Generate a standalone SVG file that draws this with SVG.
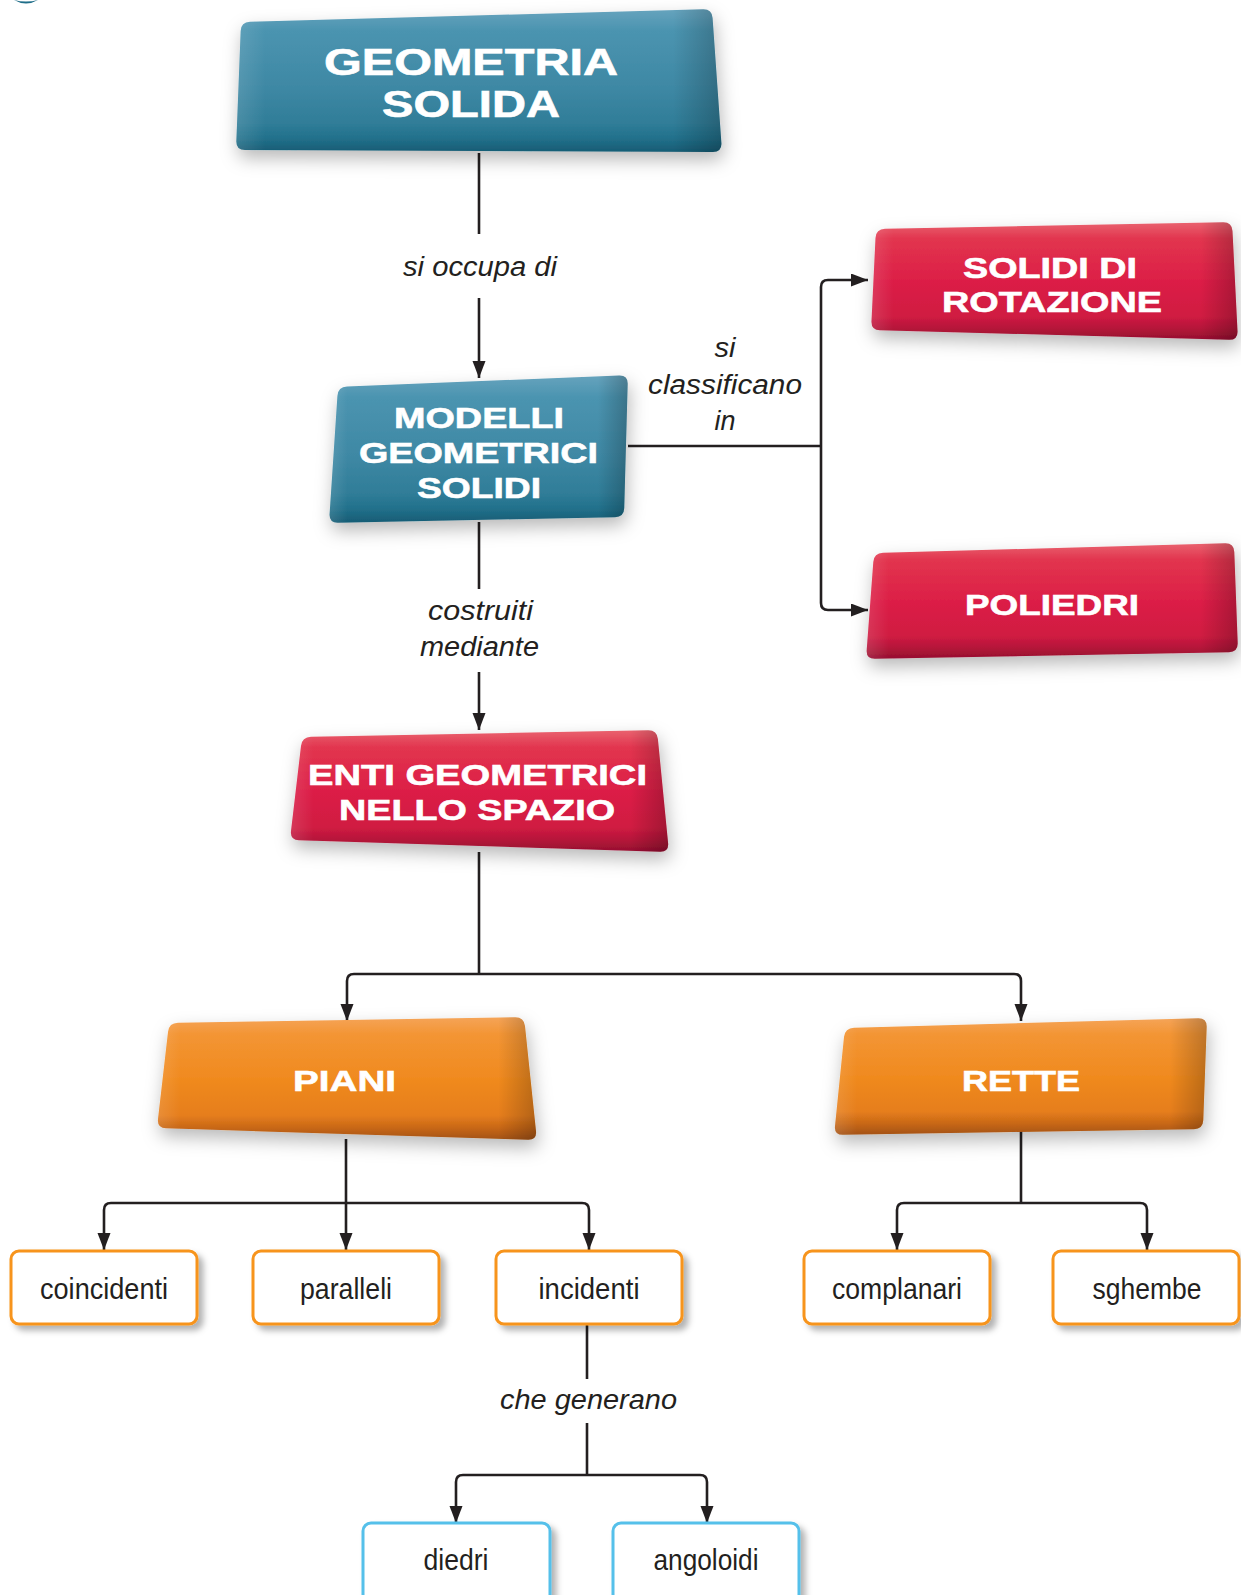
<svg xmlns="http://www.w3.org/2000/svg" width="1241" height="1595" viewBox="0 0 1241 1595">
<style>
.big{font-family:"Liberation Sans",Arial,sans-serif;font-weight:bold;fill:#ffffff;text-anchor:middle;stroke:#ffffff;stroke-width:0.6}
.lbl{font-family:"Liberation Sans",Arial,sans-serif;font-style:italic;font-size:27px;fill:#231f20;text-anchor:middle}
.sm{font-family:"Liberation Sans",Arial,sans-serif;font-size:30px;fill:#231f20;text-anchor:middle}
.con{fill:none;stroke:#231f20;stroke-width:2.6}
.arr{marker-end:url(#ah)}
.obox{fill:#ffffff;stroke:#f7941d;stroke-width:3}
.bbox{fill:#ffffff;stroke:#55c0ea;stroke-width:3}
</style>
<defs>
<marker id="ah" markerUnits="userSpaceOnUse" markerWidth="18" markerHeight="14" refX="17" refY="6.5" orient="auto">
<path d="M0,0 L17,6.5 L0,13 Z" fill="#231f20"/>
</marker>
<linearGradient id="gTeal" x1="0" y1="0" x2="0" y2="1">
<stop offset="0" stop-color="#66a3bd"/><stop offset="0.15" stop-color="#4b94b0"/><stop offset="0.55" stop-color="#3e88a4"/><stop offset="0.8" stop-color="#307d98"/><stop offset="0.9" stop-color="#22718c"/><stop offset="1" stop-color="#175c74"/>
</linearGradient>
<linearGradient id="gRed" x1="0" y1="0" x2="0" y2="1">
<stop offset="0" stop-color="#e9636f"/><stop offset="0.14" stop-color="#e2354f"/><stop offset="0.5" stop-color="#dc1f46"/><stop offset="0.8" stop-color="#d01b42"/><stop offset="0.9" stop-color="#b6163a"/><stop offset="1" stop-color="#950f2f"/>
</linearGradient>
<linearGradient id="gOrange" x1="0" y1="0" x2="0" y2="1">
<stop offset="0" stop-color="#f5a458"/><stop offset="0.14" stop-color="#f39534"/><stop offset="0.5" stop-color="#f08a1f"/><stop offset="0.8" stop-color="#e67e1c"/><stop offset="0.9" stop-color="#c96817"/><stop offset="1" stop-color="#a35212"/>
</linearGradient>
<linearGradient id="gSide" x1="0" y1="0" x2="1" y2="0">
<stop offset="0" stop-color="#ffffff" stop-opacity="0.12"/><stop offset="0.06" stop-color="#ffffff" stop-opacity="0"/><stop offset="0.9" stop-color="#000000" stop-opacity="0"/><stop offset="1" stop-color="#000000" stop-opacity="0.22"/>
</linearGradient>
<filter id="sh" x="-20%" y="-30%" width="140%" height="170%">
<feDropShadow dx="2" dy="8" stdDeviation="9" flood-color="#000000" flood-opacity="0.28"/>
</filter>
<filter id="ssh" x="-10%" y="-10%" width="130%" height="140%">
<feDropShadow dx="5" dy="5" stdDeviation="3" flood-color="#000000" flood-opacity="0.3"/>
</filter>
</defs>
<rect width="1241" height="1595" fill="#ffffff"/>
<path d="M14,0 Q26,7 38,0 Q26,3 14,0 Z" fill="#1f6e89"/>

<g id="connectors">
<path class="con" d="M479,153 V234"/>
<path class="con arr" d="M479,298 V378"/>
<path class="con" d="M628,446 H821"/>
<path class="con arr" d="M821,446 V287 Q821,280 828,280 H868"/>
<path class="con arr" d="M821,446 V603 Q821,610 828,610 H868"/>
<path class="con" d="M479,522 V589"/>
<path class="con arr" d="M479,672 V730"/>
<path class="con" d="M479,852 V974"/>
<path class="con arr" d="M479,974 H354 Q347,974 347,981 V1021"/>
<path class="con arr" d="M479,974 H1014 Q1021,974 1021,981 V1021"/>
<path class="con arr" d="M346,1139 V1250"/>
<path class="con arr" d="M346,1203 H111 Q104,1203 104,1210 V1250"/>
<path class="con arr" d="M346,1203 H582 Q589,1203 589,1210 V1250"/>
<path class="con" d="M1021,1130 V1203"/>
<path class="con arr" d="M1021,1203 H904 Q897,1203 897,1210 V1250"/>
<path class="con arr" d="M1021,1203 H1140 Q1147,1203 1147,1210 V1250"/>
<path class="con" d="M587,1325 V1379"/>
<path class="con" d="M587,1423 V1475"/>
<path class="con arr" d="M587,1475 H463 Q456,1475 456,1482 V1523"/>
<path class="con arr" d="M587,1475 H700 Q707,1475 707,1482 V1523"/>
<text class="lbl" x="480" y="276" textLength="154" lengthAdjust="spacingAndGlyphs">si occupa di</text>
<text class="lbl" x="725" y="357" textLength="21" lengthAdjust="spacingAndGlyphs">si</text>
<text class="lbl" x="725" y="394" textLength="154" lengthAdjust="spacingAndGlyphs">classificano</text>
<text class="lbl" x="725" y="430" textLength="21" lengthAdjust="spacingAndGlyphs">in</text>
<text class="lbl" x="480.5" y="620" textLength="105" lengthAdjust="spacingAndGlyphs">costruiti</text>
<text class="lbl" x="479.5" y="656" textLength="119" lengthAdjust="spacingAndGlyphs">mediante</text>
<text class="lbl" x="588.5" y="1409" textLength="177" lengthAdjust="spacingAndGlyphs">che generano</text>
</g>

<g id="geometria-solida">
<path filter="url(#sh)" fill="url(#gTeal)" d="M250,21.75 L703,9.25 Q712,9 712.6,18 L721.4,143 Q722,152 713,152 L245,150 Q236,150 236.35,141 L240.65,31 Q241,22 250,21.75 Z"/>
<path fill="url(#gSide)" d="M250,21.75 L703,9.25 Q712,9 712.6,18 L721.4,143 Q722,152 713,152 L245,150 Q236,150 236.35,141 L240.65,31 Q241,22 250,21.75 Z"/>
<text class="big" x="471" y="75" font-size="36" textLength="294" lengthAdjust="spacingAndGlyphs">GEOMETRIA</text>
<text class="big" x="471" y="117" font-size="36" textLength="178" lengthAdjust="spacingAndGlyphs">SOLIDA</text>
</g>

<g id="modelli-geometrici-solidi">
<path filter="url(#sh)" fill="url(#gTeal)" d="M347,386.6 L619,375.4 Q628,375 627.7,384 L624.25,508 Q624,517 615,517.2 L338,522.8 Q329,523 329.6,514 L337.4,396 Q338,387 347,386.6 Z"/>
<path fill="url(#gSide)" d="M347,386.6 L619,375.4 Q628,375 627.7,384 L624.25,508 Q624,517 615,517.2 L338,522.8 Q329,523 329.6,514 L337.4,396 Q338,387 347,386.6 Z"/>
<text class="big" x="479" y="428" font-size="30" textLength="170" lengthAdjust="spacingAndGlyphs">MODELLI</text>
<text class="big" x="478.5" y="463" font-size="30" textLength="239" lengthAdjust="spacingAndGlyphs">GEOMETRICI</text>
<text class="big" x="479" y="498" font-size="30" textLength="124" lengthAdjust="spacingAndGlyphs">SOLIDI</text>
</g>

<g id="solidi-di-rotazione">
<path filter="url(#sh)" fill="url(#gRed)" d="M885,228.8 L1223,222.2 Q1232,222 1232.5,231 L1237.5,331 Q1238,340 1229,339.8 L880,330.2 Q871,330 871.5,321 L875.5,238 Q876,229 885,228.8 Z"/>
<path fill="url(#gSide)" d="M885,228.8 L1223,222.2 Q1232,222 1232.5,231 L1237.5,331 Q1238,340 1229,339.8 L880,330.2 Q871,330 871.5,321 L875.5,238 Q876,229 885,228.8 Z"/>
<text class="big" x="1050" y="278" font-size="30" textLength="174" lengthAdjust="spacingAndGlyphs">SOLIDI DI</text>
<text class="big" x="1052" y="312" font-size="30" textLength="220" lengthAdjust="spacingAndGlyphs">ROTAZIONE</text>
</g>

<g id="poliedri">
<path filter="url(#sh)" fill="url(#gRed)" d="M883,552.75 L1225,543.25 Q1234,543 1234.3,552 L1237.7,643 Q1238,652 1229,652.17 L875,658.83 Q866,659 866.7,650 L873.3,562 Q874,553 883,552.75 Z"/>
<path fill="url(#gSide)" d="M883,552.75 L1225,543.25 Q1234,543 1234.3,552 L1237.7,643 Q1238,652 1229,652.17 L875,658.83 Q866,659 866.7,650 L873.3,562 Q874,553 883,552.75 Z"/>
<text class="big" x="1052" y="615" font-size="30" textLength="174" lengthAdjust="spacingAndGlyphs">POLIEDRI</text>
</g>

<g id="enti-geometrici">
<path filter="url(#sh)" fill="url(#gRed)" d="M311,736.8 L648,730.2 Q657,730 657.9,739 L668.1,843 Q669,852 660,851.7 L299,840.3 Q290,840 291,831 L301,746 Q302,737 311,736.8 Z"/>
<path fill="url(#gSide)" d="M311,736.8 L648,730.2 Q657,730 657.9,739 L668.1,843 Q669,852 660,851.7 L299,840.3 Q290,840 291,831 L301,746 Q302,737 311,736.8 Z"/>
<text class="big" x="477.5" y="785" font-size="30" textLength="339" lengthAdjust="spacingAndGlyphs">ENTI GEOMETRICI</text>
<text class="big" x="477" y="820" font-size="30" textLength="276" lengthAdjust="spacingAndGlyphs">NELLO SPAZIO</text>
</g>

<g id="piani">
<path filter="url(#sh)" fill="url(#gOrange)" d="M178,1022.85 L515,1017.15 Q524,1017 525,1026 L536,1131 Q537,1140 528,1139.7 L166,1128.3 Q157,1128 158,1119 L168,1032 Q169,1023 178,1022.85 Z"/>
<path fill="url(#gSide)" d="M178,1022.85 L515,1017.15 Q524,1017 525,1026 L536,1131 Q537,1140 528,1139.7 L166,1128.3 Q157,1128 158,1119 L168,1032 Q169,1023 178,1022.85 Z"/>
<text class="big" x="344.5" y="1091" font-size="30" textLength="103" lengthAdjust="spacingAndGlyphs">PIANI</text>
</g>

<g id="rette">
<path filter="url(#sh)" fill="url(#gOrange)" d="M854,1027.75 L1198,1018.25 Q1207,1018 1206.7,1027 L1203.3,1120 Q1203,1129 1194,1129.15 L843,1134.85 Q834,1135 835,1126 L844,1037 Q845,1028 854,1027.75 Z"/>
<path fill="url(#gSide)" d="M854,1027.75 L1198,1018.25 Q1207,1018 1206.7,1027 L1203.3,1120 Q1203,1129 1194,1129.15 L843,1134.85 Q834,1135 835,1126 L844,1037 Q845,1028 854,1027.75 Z"/>
<text class="big" x="1021" y="1091" font-size="30" textLength="118" lengthAdjust="spacingAndGlyphs">RETTE</text>
</g>

<g id="coincidenti">
<rect class="obox" filter="url(#ssh)" x="11" y="1251" width="186" height="73" rx="8"/>
<text class="sm" x="104" y="1299" textLength="128" lengthAdjust="spacingAndGlyphs">coincidenti</text>
</g>
<g id="paralleli">
<rect class="obox" filter="url(#ssh)" x="253" y="1251" width="186" height="73" rx="8"/>
<text class="sm" x="346" y="1299" textLength="92" lengthAdjust="spacingAndGlyphs">paralleli</text>
</g>
<g id="incidenti">
<rect class="obox" filter="url(#ssh)" x="496" y="1251" width="186" height="73" rx="8"/>
<text class="sm" x="589" y="1299" textLength="101" lengthAdjust="spacingAndGlyphs">incidenti</text>
</g>
<g id="complanari">
<rect class="obox" filter="url(#ssh)" x="804" y="1251" width="186" height="73" rx="8"/>
<text class="sm" x="897" y="1299" textLength="130" lengthAdjust="spacingAndGlyphs">complanari</text>
</g>
<g id="sghembe">
<rect class="obox" filter="url(#ssh)" x="1053" y="1251" width="186" height="73" rx="8"/>
<text class="sm" x="1147" y="1299" textLength="109" lengthAdjust="spacingAndGlyphs">sghembe</text>
</g>
<g id="diedri">
<rect class="bbox" filter="url(#ssh)" x="363" y="1523" width="187" height="80" rx="8"/>
<text class="sm" x="456" y="1570" textLength="65" lengthAdjust="spacingAndGlyphs">diedri</text>
</g>
<g id="angoloidi">
<rect class="bbox" filter="url(#ssh)" x="613" y="1523" width="186" height="80" rx="8"/>
<text class="sm" x="706" y="1570" textLength="105" lengthAdjust="spacingAndGlyphs">angoloidi</text>
</g>
</svg>
